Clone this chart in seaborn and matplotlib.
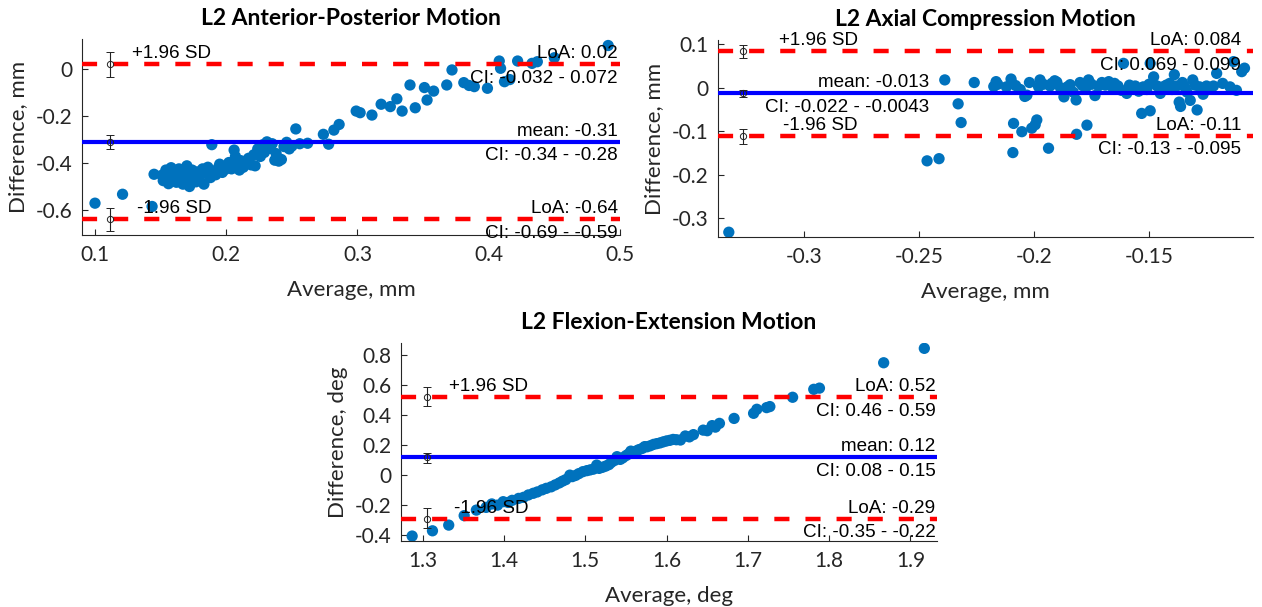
import matplotlib
matplotlib.use("Agg")
import matplotlib.pyplot as plt
import matplotlib.transforms as mtransforms
import seaborn as sns
import pandas as pd

# ---------------- data ----------------
# Panel 1: L2 Anterior-Posterior Motion
ap_avg = [0.100, 0.121, 0.1435, 0.145,
          0.151, 0.152, 0.154, 0.155, 0.156, 0.157, 0.158, 0.159, 0.160, 0.161,
          0.162, 0.163, 0.164, 0.165, 0.166, 0.167, 0.168, 0.169, 0.170, 0.171,
          0.172, 0.173, 0.174, 0.175, 0.176, 0.177, 0.178, 0.179, 0.180, 0.182,
          0.183, 0.185, 0.186, 0.188, 0.189, 0.190, 0.192, 0.194, 0.195, 0.197,
          0.199, 0.200, 0.202, 0.204, 0.206, 0.207, 0.208, 0.210, 0.211, 0.213,
          0.215, 0.217, 0.219, 0.221, 0.222, 0.224, 0.226, 0.228, 0.229, 0.231,
          0.233, 0.235, 0.237, 0.238, 0.240, 0.242, 0.244, 0.246, 0.248, 0.250,
          0.253, 0.256, 0.262, 0.274, 0.278, 0.282, 0.286,
          0.299, 0.302, 0.311, 0.318, 0.325, 0.330, 0.334, 0.340, 0.344, 0.351,
          0.353, 0.358, 0.368, 0.372, 0.381, 0.385, 0.389, 0.399, 0.408, 0.409,
          0.412, 0.416, 0.422, 0.433, 0.437, 0.450, 0.491]
ap_diff = [-0.571, -0.533, -0.585, -0.448,
           -0.452, -0.475, -0.430, -0.462, -0.488, -0.445, -0.420, -0.470, -0.455, -0.438,
           -0.482, -0.460, -0.425, -0.448, -0.470, -0.490, -0.440, -0.458, -0.412, -0.475,
           -0.500, -0.445, -0.430, -0.465, -0.452, -0.480, -0.438, -0.470, -0.455, -0.425,
           -0.490, -0.440, -0.418, -0.462, -0.322, -0.435, -0.450, -0.420, -0.405, -0.440,
           -0.428, -0.412, -0.398, -0.425, -0.345, -0.372, -0.405, -0.430, -0.390, -0.418,
           -0.398, -0.380, -0.408, -0.365, -0.412, -0.340, -0.372, -0.322, -0.355, -0.310,
           -0.338, -0.318, -0.388, -0.360, -0.392, -0.385, -0.330, -0.312, -0.340, -0.328,
           -0.255, -0.318, -0.316, -0.278, -0.320, -0.260, -0.236,
           -0.179, -0.186, -0.196, -0.150, -0.160, -0.127, -0.179, -0.068, -0.165, -0.079,
           -0.132, -0.094, -0.068, -0.004, -0.058, -0.070, -0.075, -0.082, 0.034, 0.003,
           -0.054, -0.045, 0.034, 0.024, 0.031, 0.048, 0.100]
ap_lines = [0.02, -0.31, -0.64]          # upper LoA, mean, lower LoA
ap_ci_lo = [-0.032, -0.34, -0.69]
ap_ci_hi = [0.072, -0.28, -0.59]
ap_top_txt = ["LoA: 0.02", "mean: -0.31", "LoA: -0.64"]
ap_bot_txt = ["CI: -0.032 - 0.072", "CI: -0.34 - -0.28", "CI: -0.69 - -0.59"]

# Panel 2: L2 Axial Compression Motion
ac_avg = [-0.3327, -0.2465, -0.2413, -0.2388, -0.2330, -0.2317, -0.2260,
          -0.2175, -0.2165, -0.2158, -0.2120, -0.2100, -0.2095, -0.2089, -0.2092, -0.2080,
          -0.2060, -0.2053, -0.2040, -0.2031, -0.2020, -0.2010, -0.1995, -0.1988, -0.1980,
          -0.1974, -0.1960, -0.1937, -0.1930, -0.1923, -0.1910, -0.1901, -0.1885, -0.1870,
          -0.1855, -0.1843, -0.1830, -0.1817, -0.1815, -0.1800, -0.1790, -0.1775, -0.1770,
          -0.1763, -0.1750, -0.1735, -0.1720, -0.1705, -0.1690, -0.1675, -0.1660, -0.1650,
          -0.1635, -0.1620, -0.1611, -0.1597, -0.1585, -0.1570, -0.1560, -0.1545, -0.1532,
          -0.1525, -0.1510, -0.1500, -0.1495, -0.1495, -0.1480, -0.1465, -0.1451, -0.1440,
          -0.1425, -0.1410, -0.1400, -0.1390, -0.1380, -0.1369, -0.1363, -0.1355, -0.1345,
          -0.1335, -0.1321, -0.1310, -0.1300, -0.1291, -0.1280, -0.1265, -0.1250, -0.1235,
          -0.1220, -0.1206, -0.1180, -0.1148, -0.1133, -0.1120, -0.1097, -0.1085]
ac_diff = [-0.332, -0.168, -0.163, 0.018, -0.037, -0.080, 0.012,
           0.003, 0.014, 0.008, 0.002, 0.020, 0.010, -0.082, -0.149, 0.005,
           -0.004, -0.101, -0.020, -0.017, 0.012, -0.093, -0.085, -0.074, 0.002,
           0.018, 0.008, -0.139, 0.004, 0.010, 0.016, 0.013, 0.000, -0.021,
           0.002, 0.007, -0.010, -0.028, -0.107, 0.012, 0.005, 0.000, -0.086,
           0.018, 0.008, -0.018, 0.004, 0.012, 0.006, 0.014, 0.002, 0.010,
           0.004, -0.006, 0.056, -0.013, 0.006, 0.002, 0.004, -0.008, -0.059,
           0.002, -0.004, 0.008, 0.056, -0.053, 0.025, 0.004, -0.013, 0.002,
           0.006, 0.010, -0.004, 0.030, 0.004, -0.033, -0.043, 0.012, 0.002,
           -0.010, -0.029, 0.018, 0.006, -0.051, 0.002, -0.015, 0.004, -0.002,
           0.004, 0.033, 0.010, 0.002, 0.060, -0.006, 0.037, 0.045]
ac_lines = [0.084, -0.013, -0.11]
ac_ci_lo = [0.069, -0.022, -0.13]
ac_ci_hi = [0.099, -0.0043, -0.095]
ac_top_txt = ["LoA: 0.084", "mean: -0.013", "LoA: -0.11"]
ac_bot_txt = ["CI: 0.069 - 0.099", "CI: -0.022 - -0.0043", "CI: -0.13 - -0.095"]

# Panel 3: L2 Flexion-Extension Motion
fe_avg = [1.287, 1.312, 1.332, 1.351, 1.366, 1.378, 1.385, 1.392, 1.399, 1.405,
          1.410, 1.418, 1.424, 1.430, 1.436, 1.441, 1.447, 1.452, 1.458, 1.463,
          1.468, 1.472, 1.476, 1.481, 1.484, 1.488, 1.492, 1.497, 1.502, 1.506,
          1.510, 1.514, 1.517, 1.521, 1.525, 1.529, 1.532, 1.536, 1.539, 1.543,
          1.546, 1.550, 1.553, 1.556, 1.559, 1.563, 1.566, 1.570, 1.573, 1.576,
          1.580, 1.584, 1.588, 1.592, 1.596, 1.600, 1.604, 1.608, 1.612, 1.617,
          1.623, 1.628, 1.633, 1.645, 1.650, 1.656, 1.660, 1.665, 1.683, 1.707,
          1.711, 1.723, 1.727, 1.755, 1.781, 1.788, 1.867, 1.917]
fe_diff = [-0.406, -0.371, -0.333, -0.270, -0.233, -0.215, -0.192, -0.200, -0.177, -0.182,
           -0.168, -0.155, -0.148, -0.132, -0.121, -0.112, -0.098, -0.088, -0.078, -0.065,
           -0.052, -0.040, -0.030, 0.000, -0.010, -0.002, 0.010, 0.023, 0.030, 0.035,
           0.040, 0.067, 0.045, 0.052, 0.060, 0.070, 0.085, 0.098, 0.123, 0.105,
           0.115, 0.130, 0.140, 0.160, 0.150, 0.162, 0.170, 0.178, 0.190, 0.189,
           0.196, 0.205, 0.210, 0.215, 0.222, 0.228, 0.232, 0.238, 0.236, 0.234,
           0.261, 0.255, 0.270, 0.300, 0.296, 0.330, 0.320, 0.345, 0.378, 0.412,
           0.439, 0.450, 0.457, 0.519, 0.572, 0.580, 0.749, 0.845]
fe_lines = [0.52, 0.12, -0.29]
fe_ci_lo = [0.46, 0.08, -0.35]
fe_ci_hi = [0.59, 0.15, -0.22]
fe_top_txt = ["LoA: 0.52", "mean: 0.12", "LoA: -0.29"]
fe_bot_txt = ["CI: 0.46 - 0.59", "CI: 0.08 - 0.15", "CI: -0.35 - -0.22"]

sd_labels = ["+1.96 SD", "-1.96 SD"]

# ---------------- style ----------------
sns.set_theme(style="ticks")
plt.rcParams["font.family"] = ["Lato", "DejaVu Sans"]
plt.rcParams["axes.unicode_minus"] = False

W, H = 1262, 607
fig = plt.figure(figsize=(W / 100, H / 100), dpi=100)
fig.patch.set_facecolor("white")


def px_axes(l, t, r, b):
    return fig.add_axes([l / W, 1 - b / H, (r - l) / W, (b - t) / H])


AX_COLOR = "#262626"
DOT = "#0072BD"
ANN_FONT = ["Liberation Sans", "Arial", "DejaVu Sans"]


def panel(ax, avg, diff, lines, lo, hi, top_txt, bot_txt, title, xlabel, ylabel,
          xlim, ylim, xticks, xticklabels, yticks, yticklabels, err_x,
          sd_x, mean_x, loa_x):
    df = pd.DataFrame({"avg": avg, "diff": diff})
    sns.scatterplot(data=df, x="avg", y="diff", ax=ax, color=DOT, s=66,
                    edgecolor="none", linewidth=0, zorder=2)
    # limit / mean lines
    ax.axhline(lines[0], color="#FF0000", lw=3.2, dashes=(3.4, 3.6), zorder=3)
    ax.axhline(lines[1], color="#0000FF", lw=3.0, zorder=3)
    ax.axhline(lines[2], color="#FF0000", lw=3.2, dashes=(3.4, 3.6), zorder=3)
    # CI error bars
    for v, a, b in zip(lines, lo, hi):
        ax.errorbar([err_x], [v], yerr=[[v - a], [b - v]], fmt="o",
                    mfc="none", mec="#222222", ms=4.5, mew=0.7,
                    ecolor="#222222", elinewidth=0.8, capsize=3.2,
                    capthick=0.8, zorder=5)
    tr = mtransforms.blended_transform_factory(ax.transAxes, ax.transData)
    kw = dict(fontsize=13.6, family=ANN_FONT, color="black", zorder=6)
    xs = [loa_x, mean_x, loa_x]
    for v, tt, bt, xx in zip(lines, top_txt, bot_txt, xs):
        ax.annotate(tt, (xx, v), xycoords=tr, xytext=(0, 1.5),
                    textcoords="offset points", ha="right", va="bottom", **kw)
        ax.annotate(bt, (xx, v), xycoords=tr, xytext=(0, -4),
                    textcoords="offset points", ha="right", va="top", **kw)
    ax.annotate(sd_labels[0], (sd_x, lines[0]), xycoords=tr, xytext=(0, 1.5),
                textcoords="offset points", ha="right", va="bottom", **kw)
    ax.annotate(sd_labels[1], (sd_x, lines[2]), xycoords=tr, xytext=(0, 1.5),
                textcoords="offset points", ha="right", va="bottom", **kw)

    ax.set_xlim(*xlim)
    ax.set_ylim(*ylim)
    ax.set_xticks(xticks)
    ax.set_xticklabels(xticklabels)
    ax.set_yticks(yticks)
    ax.set_yticklabels(yticklabels)
    ax.tick_params(direction="in", length=4, width=0.8, colors=AX_COLOR,
                   labelsize=15, pad=7, labelcolor="#262626")
    for s in ("top", "right"):
        ax.spines[s].set_visible(False)
    for s in ("left", "bottom"):
        ax.spines[s].set_color(AX_COLOR)
        ax.spines[s].set_linewidth(0.8)
    ax.set_title(title, fontsize=16.5, fontweight="bold", pad=10, color="black")
    ax.set_xlabel(xlabel, fontsize=16, color="#262626", labelpad=11)
    ax.set_ylabel(ylabel, fontsize=16, color="#262626", labelpad=5)
    ax.set_facecolor("white")


ax1 = px_axes(82, 39, 620, 235)
panel(ax1, ap_avg, ap_diff, ap_lines, ap_ci_lo, ap_ci_hi, ap_top_txt, ap_bot_txt,
      "L2 Anterior-Posterior Motion", "Average, mm", "Difference, mm",
      (0.0901, 0.5), (-0.7064, 0.1277),
      [0.1, 0.2, 0.3, 0.4, 0.5], ["0.1", "0.2", "0.3", "0.4", "0.5"],
      [-0.6, -0.4, -0.2, 0.0], ["-0.6", "-0.4", "-0.2", "0"],
      0.1115, 0.24, 0.996, 0.996)

ax2 = px_axes(718, 40, 1253, 237)
panel(ax2, ac_avg, ac_diff, ac_lines, ac_ci_lo, ac_ci_hi, ac_top_txt, ac_bot_txt,
      "L2 Axial Compression Motion", "Average, mm", "Difference, mm",
      (-0.3374, -0.1048), (-0.343, 0.1097),
      [-0.3, -0.25, -0.2, -0.15], ["-0.3", "-0.25", "-0.2", "-0.15"],
      [-0.3, -0.2, -0.1, 0.0, 0.1], ["-0.3", "-0.2", "-0.1", "0", "0.1"],
      -0.3267, 0.261, 0.395, 0.978)

ax3 = px_axes(401, 343, 937, 541)
panel(ax3, fe_avg, fe_diff, fe_lines, fe_ci_lo, fe_ci_hi, fe_top_txt, fe_bot_txt,
      "L2 Flexion-Extension Motion", "Average, deg", "Difference, deg",
      (1.2733, 1.9326), (-0.439, 0.8807),
      [1.3, 1.4, 1.5, 1.6, 1.7, 1.8, 1.9],
      ["1.3", "1.4", "1.5", "1.6", "1.7", "1.8", "1.9"],
      [-0.4, -0.2, 0.0, 0.2, 0.4, 0.6, 0.8],
      ["-0.4", "-0.2", "0", "0.2", "0.4", "0.6", "0.8"],
      1.305, 0.237, 0.997, 0.997)

fig.savefig("out.png", dpi=100, facecolor="white")
